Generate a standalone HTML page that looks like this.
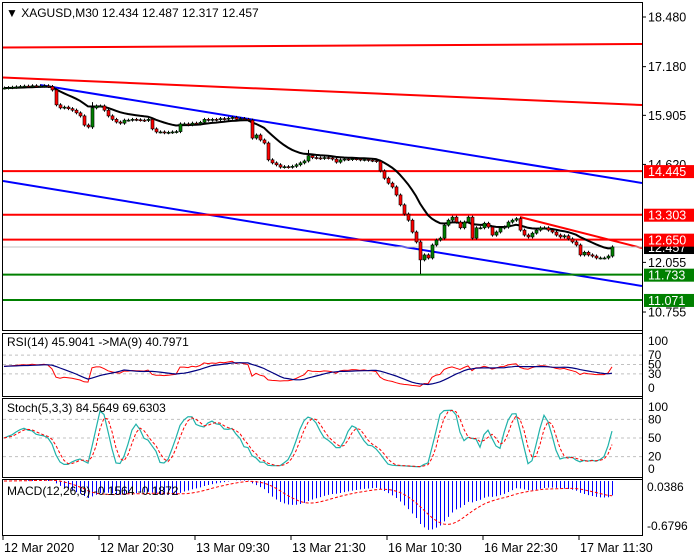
<!DOCTYPE html>
<html><head><meta charset="utf-8">
<style>
html,body{margin:0;padding:0;background:#fff;}
svg{display:block;font-family:"Liberation Sans",sans-serif;}
</style></head>
<body>
<svg id="chart" width="700" height="560" viewBox="0 0 700 560" xmlns="http://www.w3.org/2000/svg">
<rect x="0" y="0" width="700" height="560" fill="#fff"/>
<g id="frames" fill="none" stroke="#000" stroke-width="1">
  <rect x="2.5" y="2.5" width="640" height="328"/>
  <rect x="2.5" y="333.5" width="640" height="63"/>
  <rect x="2.5" y="398.5" width="640" height="79"/>
  <rect x="2.5" y="479.5" width="640" height="56"/>
</g>
<g id="layer"></g>
<text x="6" y="17" font-size="12" fill="#000">▼ XAGUSD,M30  12.434 12.487 12.317 12.457</text>
<text x="7" y="346" font-size="12" fill="#000">RSI(14) 45.9041  -&gt;MA(9) 40.7971</text>
<text x="7" y="412" font-size="12" fill="#000">Stoch(5,3,3) 84.5649 69.6303</text>
<text x="7" y="495" font-size="12" fill="#000">MACD(12,26,9) -0.1564 -0.1872</text>
</svg>
<script>
const closes=[16.62,16.63,16.64,16.65,16.66,16.67,16.66,16.68,16.67,16.67,16.68,16.66,16.57,16.18,16.10,16.12,16.08,16.04,15.97,15.89,15.65,15.60,16.10,16.15,16.15,16.04,15.89,15.80,15.73,15.70,15.78,15.78,15.80,15.79,15.78,15.77,15.80,15.55,15.47,15.47,15.45,15.46,15.47,15.48,15.68,15.68,15.66,15.70,15.68,15.72,15.80,15.78,15.80,15.79,15.82,15.81,15.83,15.85,15.80,15.82,15.80,15.78,15.31,15.39,15.26,15.18,14.74,14.66,14.61,14.55,14.56,14.55,14.57,14.61,14.66,14.71,14.85,14.80,14.79,14.78,14.80,14.79,14.76,14.68,14.74,14.76,14.75,14.77,14.76,14.74,14.75,14.73,14.72,14.70,14.45,14.26,14.13,14.03,13.82,13.56,13.32,13.16,12.85,12.59,12.12,12.25,12.17,12.51,12.64,12.69,13.03,13.16,13.24,13.11,12.96,13.11,13.24,12.69,12.96,12.96,13.08,12.98,12.77,12.85,12.96,12.98,13.11,13.16,13.20,12.90,12.77,12.72,12.82,12.90,12.96,12.96,12.90,12.85,12.77,12.72,12.75,12.67,12.59,12.51,12.25,12.32,12.25,12.22,12.17,12.17,12.17,12.22,12.46];
const spikeIdx=[104,76,22];
const spikeLow=[11.75,14.70,15.55];
const spikeHigh=[12.60,15.00,16.25];
const priceTicks=["18.480","17.180","15.905","14.620","12.055","10.755"];
const levelPrices=[14.445,13.303,12.650,11.733,11.071];
const levelColors=["#ff0000","#ff0000","#ff0000","#008000","#008000"];
const timeLabels=["12 Mar 2020","12 Mar 20:30","13 Mar 09:30","13 Mar 21:30","16 Mar 10:30","16 Mar 22:30","17 Mar 11:30"];
const rsiTicks=[100,70,50,30,0];
const stochTicks=[100,80,50,20,0];
const currentPrice=12.457;

const NS="http://www.w3.org/2000/svg";
const layer=document.getElementById('layer');
function mk(tag,attrs,parent){const e=document.createElementNS(NS,tag);for(const k in attrs)e.setAttribute(k,attrs[k]);(parent||layer).appendChild(e);return e;}
const xB=i=>4+i*4;
const yP=p=>17+(18.48-p)*38.19;
const yR=v=>388-v*0.47;
const yS=v=>469-v*0.62;
const yM=v=>481-v*73;

const defs=mk('defs',{});
const cp=mk('clipPath',{id:'mc'},defs);mk('rect',{x:3,y:3,width:639,height:327},cp);
const cp2=mk('clipPath',{id:'rc'},defs);mk('rect',{x:3,y:334,width:639,height:62},cp2);
const cp3=mk('clipPath',{id:'sc'},defs);mk('rect',{x:3,y:399,width:639,height:78},cp3);
const cp4=mk('clipPath',{id:'mcc'},defs);mk('rect',{x:3,y:480,width:639,height:55},cp4);
const main=mk('g',{'clip-path':'url(#mc)'});



function ln(x1,y1,x2,y2,col,w,name,par){const l=mk('line',{x1,y1,x2,y2,stroke:col,'stroke-width':w},par);return l;}
ln(3,47.5,642,44,"#ff0000",2,'upper-red-channel',main);
ln(3,77.5,642,105,"#ff0000",2,'lower-red-channel',main);
ln(40,85,642,183,"#0000ff",2,'upper-blue-channel',main);
ln(3,181,642,286,"#0000ff",2,'lower-blue-channel',main);
ln(520,217,642,248,"#ff0000",2,'red-trendline',main);
ln(3,yP(currentPrice),642,yP(currentPrice),"#c0c0c0",1,'current-price-line',main);
levelPrices.forEach((p,k)=>{ln(3,yP(p),642,yP(p),levelColors[k],2,'level-line',main);});

const ma=[];let e=closes[0];closes.forEach((c,i)=>{e=i?e+(c-e)*2/17:c;ma.push(e);});
const maLine=mk('polyline',{points:ma.map((v,i)=>xB(i)+','+yP(v).toFixed(1)).join(' '),fill:'none',stroke:'#000','stroke-width':2},main);



closes.forEach((c,i)=>{
  const o=i?closes[i-1]:c;let hi=Math.max(o,c)+0.04,lo=Math.min(o,c)-0.04;
  const si=spikeIdx.indexOf(i);if(si>=0){lo=Math.min(lo,spikeLow[si]);hi=Math.max(hi,spikeHigh[si]);}
  const x=xB(i);
  const g=mk('g',{},main);
  
  
  mk('line',{x1:x+0.5,x2:x+0.5,y1:yP(hi),y2:yP(lo),stroke:'#000','stroke-width':1},g);
  const t=yP(Math.max(o,c)),b=yP(Math.min(o,c));
  mk('rect',{x:x-1,y:t,width:3,height:Math.max(1,b-t),fill:c>=o?'#008000':'#ff0000',stroke:'#000','stroke-width':0.6},g);
});

priceTicks.forEach(t=>{const y=yP(parseFloat(t));
  mk('line',{x1:643,x2:646,y1:y,y2:y,stroke:'#000'});
  const tx=mk('text',{x:648,y:y+4.5,'font-size':12.5,fill:'#000'});tx.textContent=t;
  });
function box(p,col,name){const y=yP(p);
  mk('rect',{x:644,y:y-6,width:50,height:13,fill:col});
  const tx=mk('text',{x:648,y:y+5,'font-size':12.5,fill:'#fff'});tx.textContent=p.toFixed(3);
  }
box(currentPrice,'#000','current-price-label');
levelPrices.forEach((p,k)=>box(p,levelColors[k],'level-label'));
ln(642.5,3,642.5,536,"#000",1,'right-axis-line');

function rsiCalc(n){const r=[];let ag=0.03,al=0.035;for(let i=0;i<closes.length;i++){if(i===0){r.push(46);continue;}const d=closes[i]-closes[i-1];const g=Math.max(d,0),l=Math.max(-d,0);ag=(ag*(n-1)+g)/n;al=(al*(n-1)+l)/n;r.push(100-100/(1+ag/al));}return r;}
const rsi=rsiCalc(14);
const rsiMa=rsi.map((v,i)=>{const s=rsi.slice(Math.max(0,i-8),i+1);return s.reduce((a,b)=>a+b,0)/s.length;});
const rg=mk('g',{'clip-path':'url(#rc)'});
[70,50,30].forEach(v=>mk('line',{x1:3,x2:642,y1:yR(v),y2:yR(v),stroke:'#c0c0c0','stroke-dasharray':'3,3'},rg));
const r1=mk('polyline',{points:rsi.map((v,i)=>xB(i)+','+yR(v).toFixed(1)).join(' '),fill:'none',stroke:'#ff0000','stroke-width':1},rg);

const r2=mk('polyline',{points:rsiMa.map((v,i)=>xB(i)+','+yR(v).toFixed(1)).join(' '),fill:'none',stroke:'#000080','stroke-width':1.2},rg);

rsiTicks.forEach(v=>{const t=mk('text',{x:648,y:yR(v)+4,'font-size':12,fill:'#000'});t.textContent=v;
  });

const raw=closes.map((c,i)=>{const w=closes.slice(Math.max(0,i-4),i+1);const hi=Math.max(...w)+0.04,lo=Math.min(...w)-0.04;return 100*(c-lo)/(hi-lo);});
const sma=(a,n)=>a.map((v,i)=>{const s=a.slice(Math.max(0,i-n+1),i+1);return s.reduce((x,y)=>x+y,0)/s.length;});
const kL=sma(raw,3),dL=sma(kL,3);
const sg=mk('g',{'clip-path':'url(#sc)'});
[80,50,20].forEach(v=>mk('line',{x1:3,x2:642,y1:yS(v),y2:yS(v),stroke:'#c0c0c0','stroke-dasharray':'3,3'},sg));
const s1=mk('polyline',{points:kL.map((v,i)=>xB(i)+','+yS(v).toFixed(1)).join(' '),fill:'none',stroke:'#20b2aa','stroke-width':1.2},sg);

const s2=mk('polyline',{points:dL.map((v,i)=>xB(i)+','+yS(v).toFixed(1)).join(' '),fill:'none',stroke:'#ff0000','stroke-width':1,'stroke-dasharray':'3,2'},sg);

stochTicks.forEach(v=>{const t=mk('text',{x:648,y:yS(v)+4,'font-size':12,fill:'#000'});t.textContent=v;
  });

const ema=(a,n)=>{const o=[];let e=a[0];a.forEach((v,i)=>{e=i?e+(v-e)*2/(n+1):v;o.push(e);});return o;};
const e12=ema(closes,12),e26=ema(closes,26);
const macd=e12.map((v,i)=>v-e26[i]);
const sig=sma(macd,9);
const mg=mk('g',{'clip-path':'url(#mcc)'});
macd.forEach((v,i)=>{const l=mk('line',{x1:xB(i)+0.5,x2:xB(i)+0.5,y1:yM(0),y2:yM(v),stroke:'#0000ff','stroke-width':1},mg);
  });
const ms=mk('polyline',{points:sig.map((v,i)=>xB(i)+','+yM(v).toFixed(1)).join(' '),fill:'none',stroke:'#ff0000','stroke-width':1,'stroke-dasharray':'3,2'},mg);

[["0.0386",491],["-0.6796",530]].forEach(a=>{const t=mk('text',{x:647,y:a[1],'font-size':12,fill:'#000'});t.textContent=a[0];
  });

timeLabels.forEach((s,k)=>{const x=xB(k*24)-1;
  mk('line',{x1:x,x2:x,y1:536,y2:540,stroke:'#000'});
  const t=mk('text',{x:x+1,y:552,'font-size':12.5,fill:'#000'});t.textContent=s;
  });
</script>
</body></html>
